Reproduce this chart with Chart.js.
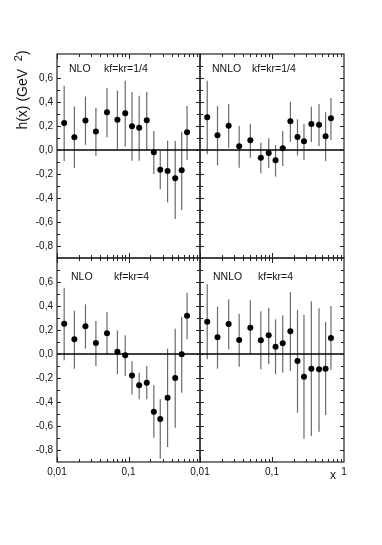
<!DOCTYPE html>
<html>
<head>
<meta charset="utf-8">
<script src="https://cdn.jsdelivr.net/npm/chart.js@4.4.0/dist/chart.umd.min.js"></script>
<style>
html, body { margin: 0; padding: 0; background: #fff; }
#wrap { position: relative; width: 382px; height: 545px; }
#wrap canvas { position: absolute; left: 0; top: 0; }
</style>
</head>
<body>
<div id="wrap">
  <canvas id="c0" width="382" height="545"></canvas>
  <canvas id="c1" width="382" height="545"></canvas>
  <canvas id="c2" width="382" height="545"></canvas>
  <canvas id="c3" width="382" height="545"></canvas>
</div>
<script>
// x positions shared by all four panels
const xValues = [0.0126, 0.0175, 0.025, 0.035, 0.05, 0.07, 0.09, 0.112, 0.141, 0.18, 0.226, 0.278, 0.352, 0.45, 0.555, 0.659];

// NLO, kf=kr=1/4
const nloQuarter = [0.224, 0.107, 0.246, 0.155, 0.314, 0.252, 0.307, 0.197, 0.186, 0.247, -0.019, -0.164, -0.175, -0.236, -0.169, 0.147];
const nloQuarterHi = [0.536, 0.362, 0.446, 0.353, 0.516, 0.496, 0.577, 0.483, 0.453, 0.486, 0.158, -0.008, 0.078, 0.075, 0.153, 0.367];
const nloQuarterLo = [-0.093, -0.15, 0.043, -0.048, 0.107, 0.008, 0.03, -0.089, -0.089, 0.0, -0.2, -0.328, -0.436, -0.575, -0.5, -0.083];

// NNLO, kf=kr=1/4
const nnloQuarter = [0.272, 0.122, 0.203, 0.031, 0.081, -0.064, -0.025, -0.086, 0.014, 0.239, 0.108, 0.072, 0.217, 0.211, 0.114, 0.264];
const nnloQuarterHi = [0.578, 0.367, 0.383, 0.2, 0.219, 0.061, 0.097, 0.042, 0.158, 0.403, 0.256, 0.217, 0.361, 0.383, 0.314, 0.433];
const nnloQuarterLo = [-0.036, -0.128, 0.019, -0.147, -0.064, -0.194, -0.15, -0.222, -0.133, 0.067, -0.047, -0.083, 0.067, 0.033, -0.092, 0.083];

// NLO, kf=kr=4
const nloFour = [0.253, 0.122, 0.231, 0.092, 0.172, 0.019, -0.011, -0.18, -0.261, -0.239, -0.481, -0.542, -0.364, -0.2, -0.003, 0.319];
const nloFourHi = [0.553, 0.361, 0.414, 0.275, 0.35, 0.197, 0.156, -0.06, -0.156, -0.1, -0.261, -0.378, 0.044, 0.211, 0.308, 0.511];
const nloFourLo = [-0.053, -0.122, 0.044, -0.1, -0.006, -0.167, -0.183, -0.338, -0.378, -0.378, -0.697, -0.872, -0.775, -0.614, -0.322, 0.122];

// NNLO, kf=kr=4
const nnloFour = [0.269, 0.139, 0.25, 0.117, 0.219, 0.114, 0.156, 0.061, 0.089, 0.189, -0.058, -0.189, -0.122, -0.128, -0.122, 0.133];
const nnloFourHi = [0.581, 0.394, 0.456, 0.336, 0.447, 0.356, 0.386, 0.289, 0.322, 0.517, 0.367, 0.325, 0.439, 0.381, 0.267, 0.4];
const nnloFourLo = [-0.044, -0.122, 0.039, -0.106, 0.0, -0.128, -0.086, -0.169, -0.156, -0.142, -0.489, -0.706, -0.683, -0.647, -0.508, -0.133];

const yTicks = [-0.8, -0.6, -0.4, -0.2, 0, 0.2, 0.4, 0.6];
const xTicksLeft = [0.01, 0.1];
const xTicksRight = [0.01, 0.1, 1];

const FONT = '"Liberation Sans", Arial, sans-serif';
const W = 382, H = 545;

const fmt = v => {
    if (v === 1) return '1';
    if (v === 0.01) return '0,01';
    if (v === 0.1) return '0,1';
    return v.toFixed(1).replace('.', ',');
};

function drawTicks(chart) {
    const { ctx, chartArea: a, scales } = chart;
    const xs = scales.x, ys = scales.y;
    ctx.save();
    ctx.strokeStyle = '#222';
    ctx.lineWidth = 1;
    ctx.beginPath();
    for (let i = -8; i <= 7; i++) {
        const y = Math.round(ys.getPixelForValue(i / 10)) + 0.5;
        const len = i % 2 === 0 ? 4 : 3;
        ctx.moveTo(a.left, y); ctx.lineTo(a.left + len, y);
        ctx.moveTo(a.right, y); ctx.lineTo(a.right - len, y);
    }
    for (const d of [0.01, 0.1]) {
        for (let k = 1; k <= 9; k++) {
            const x = Math.round(xs.getPixelForValue(k * d)) + 0.5;
            const len = k === 1 ? 5 : 3;
            ctx.moveTo(x, a.top); ctx.lineTo(x, a.top + len);
            ctx.moveTo(x, a.bottom); ctx.lineTo(x, a.bottom - len);
        }
    }
    ctx.stroke();
    ctx.lineWidth = 1.2;
    ctx.strokeRect(a.left, a.top, a.right - a.left, a.bottom - a.top);
    ctx.restore();
}

function makePanel(id, frame, vals, lo, hi, opts) {
    const data = xValues.map((x, i) => ({ x, y: vals[i] }));
    const decor = {
        id: 'decor' + id,
        beforeDatasetsDraw(chart) {
            const { ctx, chartArea: a, scales } = chart;
            const xs = scales.x, ys = scales.y;
            ctx.save();
            // error bars
            ctx.strokeStyle = '#6a6a6a';
            ctx.lineWidth = 1.2;
            xValues.forEach((x, i) => {
                const px = xs.getPixelForValue(x);
                ctx.beginPath();
                ctx.moveTo(px, ys.getPixelForValue(lo[i]));
                ctx.lineTo(px, ys.getPixelForValue(hi[i]));
                ctx.stroke();
            });
            // zero line
            const y0 = ys.getPixelForValue(0);
            ctx.strokeStyle = '#000';
            ctx.lineWidth = 1.4;
            ctx.beginPath();
            ctx.moveTo(a.left, y0);
            ctx.lineTo(a.right, y0);
            ctx.stroke();
            ctx.restore();
        },
        afterDraw(chart) {
            const { ctx } = chart;
            drawTicks(chart);
            ctx.save();
            ctx.fillStyle = '#111';
            ctx.textBaseline = 'middle';
            ctx.font = '10.5px ' + FONT;
            ctx.fillText(opts.order, opts.orderX, opts.labelY);
            ctx.fillText(opts.scale, opts.scaleX, opts.labelY);
            if (opts.yTitle) {
                ctx.translate(22, 90);
                ctx.rotate(-Math.PI / 2);
                ctx.font = '14px ' + FONT;
                const main = 'h(x) (GeV  ';
                ctx.font = '14px ' + FONT;
                const w1 = ctx.measureText(main).width;
                ctx.font = '11px ' + FONT;
                const w2 = ctx.measureText('2').width;
                ctx.font = '14px ' + FONT;
                const w3 = ctx.measureText(')').width;
                let sx = -(w1 + w2 + w3) / 2;
                ctx.textBaseline = 'alphabetic';
                ctx.fillText(main, sx, 5);
                ctx.font = '11px ' + FONT;
                ctx.fillText('2', sx + w1, 0);
                ctx.font = '14px ' + FONT;
                ctx.fillText(')', sx + w1 + w2, 5);
            }
            if (opts.xTitle) {
                ctx.font = '12px ' + FONT;
                ctx.textAlign = 'center';
                ctx.fillText('x', 333, 476);
            }
            ctx.restore();
        }
    };

    return new Chart(document.getElementById(id), {
        type: 'scatter',
        data: {
            datasets: [{
                data,
                pointRadius: 3,
                pointHoverRadius: 3,
                pointBackgroundColor: '#000',
                pointBorderColor: '#000',
                pointBorderWidth: 0,
                showLine: false
            }]
        },
        options: {
            responsive: false,
            animation: false,
            events: [],
            layout: {
                padding: {
                    left: opts.yLabels ? 0 : frame.left,
                    right: W - frame.right,
                    top: frame.top,
                    bottom: opts.xLabels ? H - frame.bottom - 20 : H - frame.bottom
                }
            },
            plugins: { legend: { display: false }, tooltip: { enabled: false } },
            scales: {
                x: {
                    type: 'logarithmic',
                    min: 0.01,
                    max: 1,
                    grid: { display: false, drawTicks: false },
                    border: { display: false },
                    afterBuildTicks: s => { s.ticks = opts.xTickVals.map(v => ({ value: v })); },
                    afterFit: s => { s.height = opts.xLabels ? 20 : 0; },
                    ticks: {
                        display: opts.xLabels,
                        autoSkip: false,
                        maxRotation: 0,
                        padding: 4,
                        color: '#111',
                        font: { family: FONT, size: 10 },
                        callback: v => fmt(v)
                    }
                },
                y: {
                    min: -0.9,
                    max: 0.8,
                    grid: { display: false, drawTicks: false },
                    border: { display: false },
                    afterBuildTicks: s => { s.ticks = yTicks.map(v => ({ value: v })); },
                    afterFit: s => { s.width = opts.yLabels ? frame.left : 0; },
                    ticks: {
                        display: opts.yLabels,
                        autoSkip: false,
                        padding: 4,
                        color: '#111',
                        font: { family: FONT, size: 10 },
                        callback: v => fmt(v)
                    }
                }
            }
        },
        plugins: [decor]
    });
}

makePanel('c0', { left: 57, top: 54, right: 200, bottom: 258 }, nloQuarter, nloQuarterLo, nloQuarterHi,
    { yLabels: true, xLabels: false, xTickVals: xTicksLeft, order: 'NLO', orderX: 69, scale: 'kf=kr=1/4', scaleX: 104, labelY: 69, yTitle: true });
makePanel('c1', { left: 200, top: 54, right: 344, bottom: 258 }, nnloQuarter, nnloQuarterLo, nnloQuarterHi,
    { yLabels: false, xLabels: false, xTickVals: xTicksRight, order: 'NNLO', orderX: 212, scale: 'kf=kr=1/4', scaleX: 252, labelY: 69 });
makePanel('c2', { left: 57, top: 258, right: 200, bottom: 462 }, nloFour, nloFourLo, nloFourHi,
    { yLabels: true, xLabels: true, xTickVals: xTicksLeft, order: 'NLO', orderX: 71, scale: 'kf=kr=4', scaleX: 114, labelY: 277 });
makePanel('c3', { left: 200, top: 258, right: 344, bottom: 462 }, nnloFour, nnloFourLo, nnloFourHi,
    { yLabels: false, xLabels: true, xTickVals: xTicksRight, order: 'NNLO', orderX: 213, scale: 'kf=kr=4', scaleX: 258, labelY: 277, xTitle: true });
</script>
</body>
</html>
